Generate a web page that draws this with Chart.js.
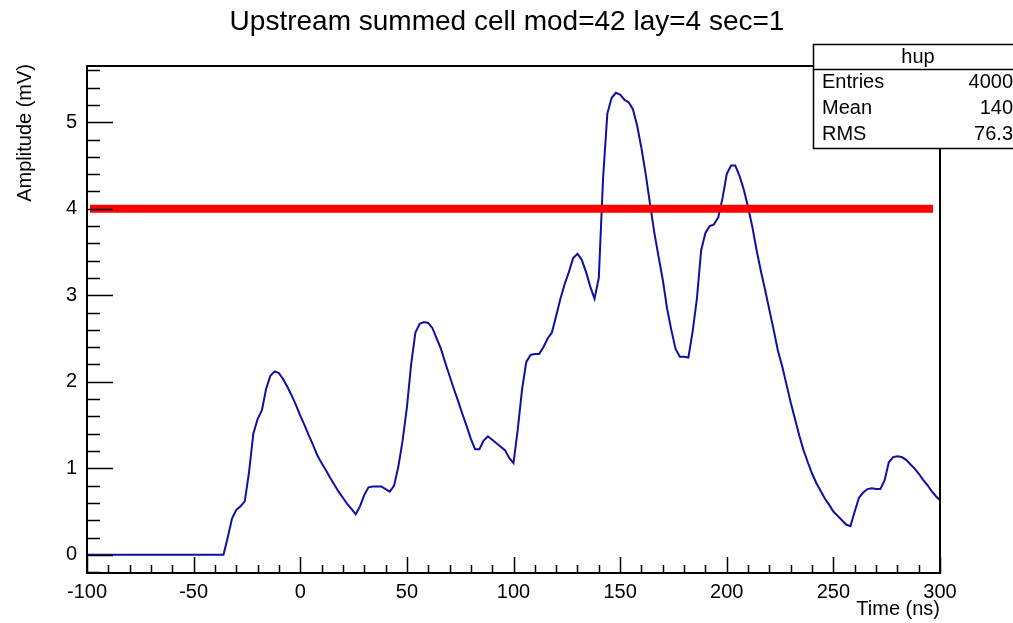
<!DOCTYPE html>
<html>
<head>
<meta charset="utf-8">
<script src="https://cdn.jsdelivr.net/npm/chart.js@4.4.0/dist/chart.umd.min.js"></script>
<style>
  html, body { margin: 0; padding: 0; background: #fff; }
  #wrap { width: 1013px; height: 623px; }
</style>
</head>
<body>
<div id="wrap"><canvas id="hupChart" width="1013" height="623"></canvas></div>
<script>
// Histogram "hup": amplitude (mV) every 2 ns, from -100 to 300 ns
const timeStart = -100;
const timeStep = 2;
const amplitude = [
  0, 0, 0, 0, 0, 0, 0, 0, 0, 0,            // -100 .. -82
  0, 0, 0, 0, 0, 0, 0, 0, 0, 0,            // -80 .. -62
  0, 0, 0, 0, 0, 0, 0, 0, 0, 0,            // -60 .. -42
  0, 0, 0, 0.20, 0.42, 0.52, 0.56, 0.62, 0.96, 1.40,   // -40 .. -22
  1.57, 1.67, 1.92, 2.07, 2.12, 2.10, 2.03, 1.94, 1.84, 1.73, // -20 .. -2
  1.61, 1.50, 1.38, 1.27, 1.15, 1.06, 0.98, 0.89, 0.81, 0.73, // 0 .. 18
  0.66, 0.59, 0.53, 0.47, 0.56, 0.69, 0.78, 0.79, 0.79, 0.79, // 20 .. 38
  0.76, 0.73, 0.80, 1.02, 1.32, 1.70, 2.20, 2.57, 2.67, 2.69, // 40 .. 58
  2.68, 2.62, 2.50, 2.38, 2.22, 2.07, 1.92, 1.78, 1.63, 1.49, // 60 .. 78
  1.34, 1.22, 1.22, 1.32, 1.37, 1.33, 1.29, 1.25, 1.21, 1.12, // 80 .. 98
  1.06, 1.45, 1.91, 2.23, 2.31, 2.32, 2.32, 2.40, 2.50, 2.57, // 100 .. 118
  2.76, 2.96, 3.13, 3.27, 3.43, 3.48, 3.41, 3.27, 3.10, 2.96, // 120 .. 138
  3.20, 4.35, 5.10, 5.28, 5.34, 5.32, 5.26, 5.23, 5.15, 4.96, // 140 .. 158
  4.70, 4.40, 4.06, 3.73, 3.45, 3.18, 2.85, 2.60, 2.38, 2.29, // 160 .. 178
  2.29, 2.28, 2.58, 2.96, 3.52, 3.72, 3.80, 3.82, 3.90, 4.12, // 180 .. 198
  4.40, 4.50, 4.50, 4.38, 4.22, 4.02, 3.79, 3.52, 3.28, 3.06, // 200 .. 218
  2.83, 2.60, 2.36, 2.18, 1.97, 1.76, 1.57, 1.38, 1.21, 1.07, // 220 .. 238
  0.94, 0.83, 0.74, 0.65, 0.58, 0.50, 0.45, 0.40, 0.35, 0.33, // 240 .. 258
  0.50, 0.66, 0.72, 0.76, 0.77, 0.76, 0.76, 0.86, 1.07, 1.13, // 260 .. 278
  1.14, 1.13, 1.10, 1.05, 1.00, 0.94, 0.87, 0.81, 0.74, 0.68, // 280 .. 298
  0.63                                                       // 300
];

// threshold line
const thresholdX = [-98.6, 296.7];
const thresholdY = 4;

const xTickLabels = [-100, -50, 0, 50, 100, 150, 200, 250, 300];
const yTickLabels = [0, 1, 2, 3, 4, 5];

const statNames = ['Entries', 'Mean', 'RMS'];
const statValues = ['4000', '140', '76.3'];

const FONT = '"Liberation Sans", Arial, Helvetica, sans-serif';

const histPoints = amplitude.map((v, i) => ({ x: timeStart + i * timeStep, y: v }));
const threshPoints = thresholdX.map(x => ({ x: x, y: thresholdY }));

// ROOT-like frame, inside ticks, titles and stats box
const rootDecor = {
  id: 'rootDecor',
  afterDraw(chart) {
    const { ctx, chartArea: a, scales } = chart;
    const xs = scales.x, ys = scales.y;
    ctx.save();
    ctx.strokeStyle = '#000';
    ctx.lineWidth = 1.5;

    // y ticks every 0.2, majors at integers
    ctx.beginPath();
    for (let k = -1; k <= 28; k++) {
      const v = k * 0.2;
      const py = Math.round(ys.getPixelForValue(v)) + 0.5;
      if (py < a.top || py > a.bottom) continue;
      const len = (k % 5 === 0) ? 26 : 13;
      ctx.moveTo(a.left, py);
      ctx.lineTo(a.left + len, py);
    }
    // x ticks every 10, majors every 50
    for (let t = -100; t <= 300; t += 10) {
      const px = Math.round(xs.getPixelForValue(t)) + 0.5;
      const len = (t % 50 === 0) ? 16 : 8;
      ctx.moveTo(px, a.bottom);
      ctx.lineTo(px, a.bottom - len);
    }
    ctx.stroke();

    // frame
    ctx.lineWidth = 2;
    ctx.strokeRect(a.left, a.top, a.right - a.left, a.bottom - a.top);

    // title
    ctx.fillStyle = '#000';
    ctx.font = '28px ' + FONT;
    ctx.textAlign = 'center';
    ctx.textBaseline = 'middle';
    ctx.fillText('Upstream summed cell mod=42 lay=4 sec=1', 507, 22);

    // axis titles
    ctx.font = '20px ' + FONT;
    ctx.textAlign = 'right';
    ctx.fillText('Time (ns)', a.right, 609);
    ctx.save();
    ctx.translate(25, a.top - 2);
    ctx.rotate(-Math.PI / 2);
    ctx.textAlign = 'right';
    ctx.fillText('Amplitude (mV)', 0, 0);
    ctx.restore();

    // stats box
    const bx = 813, by = 44, bw = 215, bh = 104, hh = 25;
    ctx.fillStyle = '#fff';
    ctx.fillRect(bx, by, bw, bh);
    ctx.lineWidth = 1.5;
    ctx.strokeRect(bx + 0.5, by + 0.5, bw, bh);
    ctx.beginPath();
    ctx.moveTo(bx, by + hh + 0.5);
    ctx.lineTo(bx + bw, by + hh + 0.5);
    ctx.stroke();
    ctx.fillStyle = '#000';
    ctx.font = '20px ' + FONT;
    ctx.textAlign = 'center';
    ctx.fillText('hup', 918, by + 13);
    statNames.forEach((name, i) => {
      const ry = by + hh + 13 + i * 26;
      ctx.textAlign = 'left';
      ctx.fillText(name, 822, ry);
      ctx.textAlign = 'right';
      ctx.fillText(statValues[i], 1013, ry);
    });
    ctx.restore();
  }
};

new Chart(document.getElementById('hupChart'), {
  type: 'line',
  data: {
    datasets: [
      {
        label: 'threshold',
        data: threshPoints,
        borderColor: '#ff0000',
        borderWidth: 8,
        pointRadius: 0,
        order: 0
      },
      {
        label: 'hup',
        data: histPoints,
        borderColor: '#1010a0',
        borderWidth: 2,
        pointRadius: 0,
        tension: 0,
        order: 1
      }
    ]
  },
  options: {
    responsive: false,
    animation: false,
    layout: { padding: { top: 66, right: 73, left: 0, bottom: 0 } },
    plugins: { legend: { display: false }, tooltip: { enabled: false }, title: { display: false } },
    scales: {
      x: {
        type: 'linear',
        min: -100,
        max: 300,
        grid: { display: false, drawTicks: false },
        border: { display: false },
        afterFit: s => { s.height = 50; },
        afterBuildTicks: s => { s.ticks = xTickLabels.map(v => ({ value: v })); },
        ticks: { padding: 7, color: '#000', maxRotation: 0, autoSkip: false,
                 font: { family: FONT, size: 20 } }
      },
      y: {
        type: 'linear',
        min: -0.21,
        max: 5.65,
        grid: { display: false, drawTicks: false },
        border: { display: false },
        afterFit: s => { s.width = 87; },
        afterBuildTicks: s => { s.ticks = yTickLabels.map(v => ({ value: v })); },
        ticks: { padding: 10, color: '#000', font: { family: FONT, size: 20 } }
      }
    }
  },
  plugins: [rootDecor]
});
</script>
</body>
</html>
